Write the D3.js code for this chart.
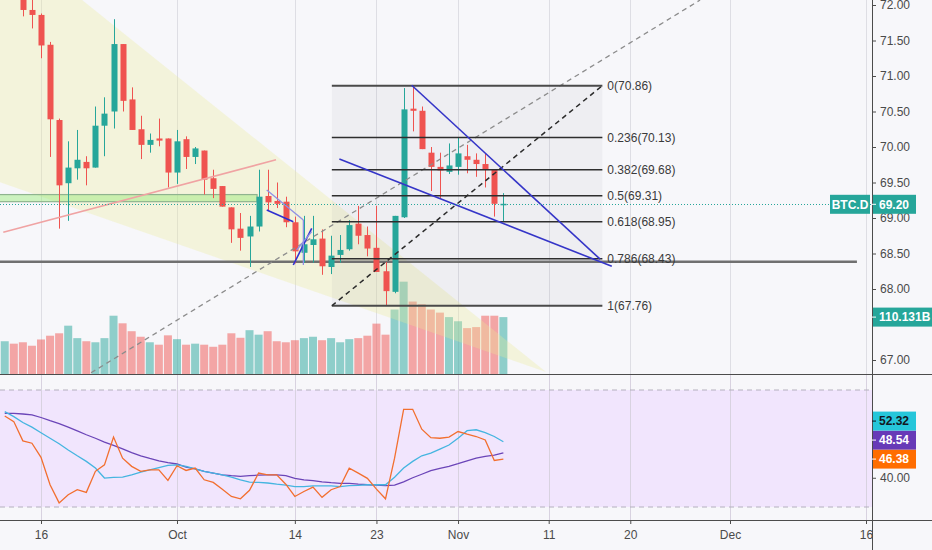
<!DOCTYPE html>
<html>
<head>
<meta charset="utf-8">
<script src="https://cdn.jsdelivr.net/npm/d3@7"></script>
<style>
  body { margin: 0; background: #f7f7fa; }
  svg { display: block; font-family: "Liberation Sans", Arial, sans-serif; }
</style>
</head>
<body>
<script>
// BTC.D daily candles, 12 Sep - 6 Nov 2019
var firstDay = "2019-09-12";
var opens  = [72.25,72.45,72.20,71.93,71.86,71.44,70.38,69.49,69.70,69.79,69.71,70.30,70.50,71.45,70.67,70.25,70.03,70.12,70.12,69.64,70.11,69.86,69.95,69.56,69.45,69.15,68.85,68.74,68.88,69.31,69.24,69.23,68.94,68.51,68.62,68.71,68.31,68.48,68.56,68.92,68.76,68.58,68.25,67.96,69.01,70.54,70.51,69.92,69.72,69.65,69.72,69.87,69.82,69.76,69.69,69.19];
var highs  = [72.55,72.55,72.30,72.10,71.88,71.48,70.40,70.08,70.24,69.87,70.57,70.70,71.80,71.45,70.84,70.44,70.19,70.40,70.12,70.24,70.15,70.00,69.95,69.68,69.45,69.15,69.07,69.03,69.68,69.68,69.50,69.30,69.02,69.03,69.03,68.84,68.75,68.76,68.97,69.17,68.88,69.17,68.38,69.03,70.83,70.87,70.57,70.00,69.92,70.05,70.14,70.03,69.91,69.91,69.69,69.35];
var lows   = [72.15,72.15,71.84,71.67,71.25,69.86,68.85,68.96,69.54,69.46,69.71,69.87,70.26,70.50,70.24,69.83,69.92,70.01,69.43,69.48,69.69,69.76,69.33,69.28,69.16,68.65,68.54,68.31,68.81,69.10,69.14,68.87,68.36,68.37,68.37,68.20,68.21,68.37,68.54,68.63,68.46,68.24,67.76,67.94,69.00,70.22,69.97,69.38,69.28,69.62,69.61,69.63,69.58,69.43,69.02,68.95];
var closes = [72.45,72.20,71.93,71.86,71.43,70.39,69.46,69.71,69.82,69.70,70.30,70.47,71.45,70.65,70.24,70.03,70.10,70.09,69.64,70.08,69.86,69.98,69.54,69.41,69.16,68.84,68.72,68.88,69.30,69.22,69.20,68.94,68.53,68.63,68.70,68.32,68.47,68.55,68.90,68.75,68.57,68.24,67.97,69.03,70.53,70.51,69.97,69.72,69.67,69.74,69.91,69.82,69.76,69.69,69.20,69.20];
// volume, billions
var volumes = [63.4,58.7,61.4,54.7,66.8,74.1,78.8,93.5,69.4,63.4,61.4,69.4,112.8,98.1,82.8,72.1,61.4,56.7,74.8,67.4,56.7,58.7,56.7,52.7,56.7,78.8,70.1,84.8,76.1,82.8,63.4,61.4,65.4,69.4,72.1,65.4,69.4,61.4,67.4,69.4,74.1,97.5,76.1,124.8,178.7,140.2,134.8,124.8,118.8,110.1,102.1,88.8,90.8,112.8,112.8,110.131];
// oscillator pane: orange, cyan and purple lines
var oscFast   = [61.1,59.2,52.6,51.8,47.0,37.6,31.4,34.2,35.9,35.0,42.2,44.4,53.9,46.7,43.9,42.2,42.7,42.7,39.1,44.1,42.5,43.3,39.3,38.4,36.1,33.6,32.8,35.7,41.6,41.0,41.0,37.8,33.6,35.3,36.8,33.3,35.9,37.0,43.3,41.6,39.8,36.1,32.8,46.7,63.4,63.4,56.6,53.7,53.5,53.9,55.8,54.9,54.1,52.9,45.9,46.38];
var oscSignal = [62.6,60.9,58.9,57.3,55.4,53.5,51.6,49.5,47.5,45.6,43.3,39.9,40.1,40.2,41.0,41.9,42.7,43.5,44.2,44.4,43.9,43.0,42.2,41.6,41.0,40.2,39.3,38.5,38.4,38.2,37.8,37.5,37.0,37.0,37.2,37.2,37.2,37.0,37.3,37.4,37.6,37.6,37.6,40.2,43.3,45.6,47.5,48.4,49.8,51.2,53.5,56.1,56.4,55.4,54.1,52.32];
var oscSlow   = [62.0,62.0,61.8,61.5,60.6,59.5,58.5,57.3,56.0,54.7,53.5,52.2,51.1,49.9,48.6,47.5,46.6,45.8,45.2,44.7,43.6,43.0,42.2,41.6,41.0,40.7,40.5,40.7,40.9,41.0,41.0,40.7,39.8,39.3,39.0,38.6,38.3,38.1,38.1,37.8,37.6,37.5,37.3,37.5,38.6,40.0,41.2,42.4,43.2,43.9,44.8,45.8,46.7,47.3,47.7,48.54];

var timeTicks  = ["2019-09-16","2019-10-01","2019-10-14","2019-10-23","2019-11-01","2019-11-11","2019-11-20","2019-12-01","2019-12-16"];
var timeLabels = ["16","Oct","14","23","Nov","11","20","Dec","16"];
var priceTicks = [67,68,68.5,69,69.5,70,70.5,71,71.5,72];
var oscTicks = [40];
var lastPrice = 69.20;

// fib retracement
var fibLevels = [0,0.236,0.382,0.5,0.618,0.786,1];
var fibHigh = 70.864, fibLow = 67.764;
var fibDays = [32.08, 61.92];   // days after 16 Sep

// drawings, [days after 16 Sep, price]
var wedgeTop = [[-8.94,73.45],[55.71,66.83],[-8.94,69.70]];
var pinkTrend = [[-4.16,68.80],[25.92,69.82]];
var greenZone = {days:[-6,23.83], prices:[69.23,69.33]};
var greyLevel = {days:[-6,90.0], price:68.385};
var longDash = [[5.52,66.82],[72.7,72.07]];
var blueUpper = [[40.89,70.87],[61.67,68.42]];
var blueLower = [[32.91,69.83],[62.96,68.32]];
var flagDark = [[[24.9,69.113],[27.83,68.948]], [[27.83,68.338],[29.86,68.855]]];
var flagLight = [[[24.9,69.394],[28.94,68.972]], [[28.94,68.972],[28.94,68.338]], [[28.2,68.549],[29.86,68.807]]];

var W = 932, H = 550, axisX = 872, mainBottom = 374, oscBottom = 520;
var up = "#26a69a", down = "#ef5350";

var parse = d3.utcParse("%Y-%m-%d");
var t0 = parse(firstDay);
var dates = closes.map(function (c, i) { return d3.utcDay.offset(t0, i); });
var ref = parse("2019-09-16");
function at(d) { return new Date(ref.getTime() + d * 864e5); }

var x = d3.scaleUtc().domain([ref, parse("2019-12-16")]).range([41, 866]);
var y = d3.scaleLinear().domain([67, 72]).range([360, 5]);
var yVol = d3.scaleLinear().domain([0, 110.131]).range([mainBottom, 317.1]);
var yOsc = d3.scaleLinear().domain([30, 70]).range([507, 390]);

var svg = d3.select(document.body).append("svg").attr("width", W).attr("height", H);
svg.append("rect").attr("width", W).attr("height", H).attr("fill", "#f7f7fa");

var defs = svg.append("defs");
defs.append("clipPath").attr("id", "cm").append("rect")
  .attr("x", 0).attr("y", 0).attr("width", axisX).attr("height", mainBottom);
defs.append("clipPath").attr("id", "co").append("rect")
  .attr("x", 0).attr("y", mainBottom).attr("width", axisX).attr("height", oscBottom - mainBottom);

var main = svg.append("g").attr("clip-path", "url(#cm)");
var osc = svg.append("g").attr("clip-path", "url(#co)");

// vertical grid
var tickDates = timeTicks.map(parse);
main.selectAll(null).data(tickDates).join("line")
  .attr("x1", function (d) { return Math.round(x(d)) + 0.5; })
  .attr("x2", function (d) { return Math.round(x(d)) + 0.5; })
  .attr("y1", 0).attr("y2", mainBottom)
  .attr("stroke", "#dedee4").attr("stroke-width", 1);

// volume
main.selectAll("rect.vol").data(volumes).join("rect")
  .attr("class", "vol")
  .attr("x", function (v, i) { return x(dates[i]) - 4; })
  .attr("width", 8)
  .attr("y", function (v) { return yVol(v); })
  .attr("height", function (v) { return mainBottom - yVol(v); })
  .attr("fill", function (v, i) { return closes[i] >= opens[i] ? "rgba(38,166,154,0.5)" : "rgba(239,83,80,0.5)"; });

// yellow triangle
var line = d3.line().x(function (p) { return x(at(p[0])); }).y(function (p) { return y(p[1]); });
main.append("path").attr("d", line(wedgeTop) + "Z")
  .attr("fill", "rgba(236,236,150,0.3)").attr("stroke", "none");

// fib background
main.append("rect")
  .attr("x", x(at(fibDays[0]))).attr("width", x(at(fibDays[1])) - x(at(fibDays[0])))
  .attr("y", y(fibHigh)).attr("height", y(fibLow) - y(fibHigh))
  .attr("fill", "rgba(110,110,125,0.06)");

// green zone
main.append("rect")
  .attr("x", x(at(greenZone.days[0]))).attr("width", x(at(greenZone.days[1])) - x(at(greenZone.days[0])))
  .attr("y", y(greenZone.prices[1])).attr("height", y(greenZone.prices[0]) - y(greenZone.prices[1]))
  .attr("fill", "rgba(150,235,120,0.45)").attr("stroke", "#8fb48f").attr("stroke-width", 1.2);

// grey horizontal level
main.append("line")
  .attr("x1", x(at(greyLevel.days[0]))).attr("x2", x(at(greyLevel.days[1])))
  .attr("y1", y(greyLevel.price)).attr("y2", y(greyLevel.price))
  .attr("stroke", "#707070").attr("stroke-width", 2.5);

// candles
var cg = main.append("g");
cg.selectAll("line").data(closes).join("line")
  .attr("x1", function (c, i) { return Math.round(x(dates[i])) + 0.5; })
  .attr("x2", function (c, i) { return Math.round(x(dates[i])) + 0.5; })
  .attr("y1", function (c, i) { return y(highs[i]); })
  .attr("y2", function (c, i) { return y(lows[i]); })
  .attr("stroke", function (c, i) { return c >= opens[i] ? up : down; });
cg.selectAll("rect").data(closes).join("rect")
  .attr("x", function (c, i) { return Math.round(x(dates[i])) - 2.5; })
  .attr("width", 6)
  .attr("y", function (c, i) { return y(Math.max(c, opens[i])); })
  .attr("height", function (c, i) { return Math.max(1.5, Math.abs(y(c) - y(opens[i]))); })
  .attr("fill", function (c, i) { return c >= opens[i] ? up : down; });

// pink trend line
main.append("path").attr("d", line(pinkTrend))
  .attr("stroke", "#f0a3a3").attr("stroke-width", 1.6).attr("fill", "none");

// long grey dashed line
main.append("path").attr("d", line(longDash))
  .attr("stroke", "#8c8c8c").attr("stroke-width", 1.3).attr("stroke-dasharray", "5,4").attr("fill", "none");

// fib lines + labels
var fx1 = x(at(fibDays[0])), fx2 = x(at(fibDays[1]));
fibLevels.forEach(function (lv) {
  var p = fibHigh - lv * (fibHigh - fibLow);
  var edge = lv === 0 || lv === 1;
  main.append("line").attr("x1", fx1).attr("x2", fx2)
    .attr("y1", y(p)).attr("y2", y(p))
    .attr("stroke", edge ? "#4a4a4a" : "#2e2e2e").attr("stroke-width", edge ? 2 : 1.5);
  main.append("text").attr("x", fx2 + 5).attr("y", y(p)).attr("dy", "0.35em")
    .attr("font-size", 12).attr("fill", "#3a3a3a")
    .text(lv + "(" + p.toFixed(2) + ")");
});
main.append("path").attr("d", line([[fibDays[0], fibLow], [fibDays[1], fibHigh]]))
  .attr("stroke", "#2b2b2b").attr("stroke-width", 1.5).attr("stroke-dasharray", "5,4").attr("fill", "none");

// blue wedge
[blueUpper, blueLower].forEach(function (seg) {
  main.append("path").attr("d", line(seg))
    .attr("stroke", "#3535c8").attr("stroke-width", 1.6).attr("fill", "none");
});
flagDark.forEach(function (seg) {
  main.append("path").attr("d", line(seg))
    .attr("stroke", "#2f2fd0").attr("stroke-width", 1.6).attr("fill", "none");
});
flagLight.forEach(function (seg) {
  main.append("path").attr("d", line(seg))
    .attr("stroke", "#8f8fe6").attr("stroke-width", 1.3).attr("fill", "none");
});

// last price line
svg.append("line").attr("x1", 0).attr("x2", axisX)
  .attr("y1", Math.round(y(lastPrice)) + 0.5).attr("y2", Math.round(y(lastPrice)) + 0.5)
  .attr("stroke", up).attr("stroke-width", 1).attr("stroke-dasharray", "1,2");

// oscillator pane
osc.append("rect").attr("x", 0).attr("width", axisX)
  .attr("y", yOsc(70)).attr("height", yOsc(30) - yOsc(70))
  .attr("fill", "#f1e5fd");
osc.selectAll(null).data(tickDates).join("line")
  .attr("x1", function (d) { return Math.round(x(d)) + 0.5; })
  .attr("x2", function (d) { return Math.round(x(d)) + 0.5; })
  .attr("y1", mainBottom).attr("y2", oscBottom)
  .attr("stroke", "#d8d2e0");
[70, 30].forEach(function (v) {
  osc.append("line").attr("x1", 0).attr("x2", axisX)
    .attr("y1", yOsc(v)).attr("y2", yOsc(v))
    .attr("stroke", "#b4b0be").attr("stroke-dasharray", "5,4");
});
var oscLine = d3.line().x(function (v, i) { return x(dates[i]); }).y(function (v) { return yOsc(v); });
[[oscSlow, "#6b45b8"], [oscSignal, "#45b5e0"], [oscFast, "#f26f2f"]].forEach(function (s) {
  osc.append("path").attr("d", oscLine(s[0]))
    .attr("stroke", s[1]).attr("stroke-width", 1.3).attr("fill", "none");
});

// pane separators and axis lines
svg.append("line").attr("x1", 0).attr("x2", W).attr("y1", mainBottom + 0.5).attr("y2", mainBottom + 0.5).attr("stroke", "#4c4c4c");
svg.append("line").attr("x1", 0).attr("x2", W).attr("y1", oscBottom + 0.5).attr("y2", oscBottom + 0.5).attr("stroke", "#4c4c4c");
svg.append("line").attr("x1", axisX + 0.5).attr("x2", axisX + 0.5).attr("y1", 0).attr("y2", H).attr("stroke", "#4c4c4c");

function styleAxis(g) {
  g.select(".domain").remove();
  g.selectAll("line").attr("stroke", "#4c4c4c");
  g.selectAll("text").attr("fill", "#4a4a4a").attr("font-size", 12)
    .attr("font-family", "'Liberation Sans', Arial, sans-serif");
}
svg.append("g").attr("transform", "translate(" + axisX + ",0)")
  .call(d3.axisRight(y).tickValues(priceTicks).tickFormat(d3.format(".2f")).tickSize(4).tickPadding(4))
  .call(styleAxis);
svg.append("g").attr("transform", "translate(" + axisX + ",0)")
  .call(d3.axisRight(yOsc).tickValues(oscTicks).tickFormat(d3.format(".2f")).tickSize(4).tickPadding(4))
  .call(styleAxis);
svg.append("g").attr("transform", "translate(0," + oscBottom + ")")
  .call(d3.axisBottom(x).tickValues(tickDates).tickFormat(function (d, i) { return timeLabels[i]; }).tickSize(4).tickPadding(6))
  .call(styleAxis);

// value labels on the right
function tag(x0, w, yc, fill, color, txt, h) {
  h = h || 19;
  svg.append("rect").attr("x", x0).attr("y", yc - h / 2).attr("width", w).attr("height", h).attr("fill", fill);
  svg.append("line").attr("x1", axisX).attr("x2", axisX + 4).attr("y1", yc).attr("y2", yc).attr("stroke", color);
  svg.append("text").attr("x", x0 + 6).attr("y", yc).attr("dy", "0.35em")
    .attr("font-size", 12).attr("font-weight", "bold").attr("fill", color).text(txt);
}
var py = y(lastPrice) + 0.5;
svg.append("rect").attr("x", 830).attr("y", py - 9.5).attr("width", 40).attr("height", 19).attr("fill", up);
svg.append("text").attr("x", 850).attr("y", py).attr("dy", "0.35em").attr("text-anchor", "middle")
  .attr("font-size", 12).attr("font-weight", "bold").attr("fill", "#fff").text("BTC.D");
tag(axisX + 1, 43, py, up, "#fff", lastPrice.toFixed(2));
tag(axisX + 1, W - axisX, yVol(volumes[volumes.length - 1]), up, "#fff", volumes[volumes.length - 1].toFixed(3) + "B");

var oscTags = [
  {v: oscFast[oscFast.length - 1], fill: "#ff6d00", color: "#fff"},
  {v: oscSlow[oscSlow.length - 1], fill: "#673ab7", color: "#fff"},
  {v: oscSignal[oscSignal.length - 1], fill: "#26c6da", color: "#131722"}
];
var prev = Infinity;
oscTags.sort(function (a, b) { return a.v - b.v; }).forEach(function (t) {
  var yy = Math.min(yOsc(t.v), prev - 19);
  prev = yy;
  tag(axisX + 1, 43, yy, t.fill, t.color, t.v.toFixed(2));
});
</script>
</body>
</html>
